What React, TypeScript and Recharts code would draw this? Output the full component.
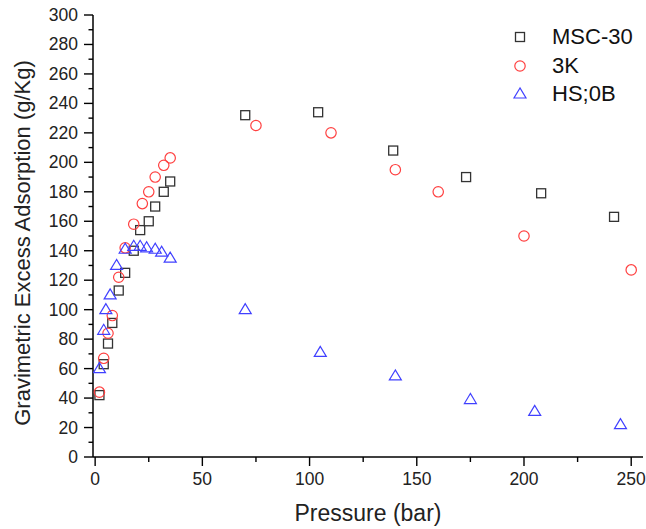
import React from 'react';
import { ScatterChart, Scatter, XAxis, YAxis } from 'recharts';

const msc30 = [
  { p: 2, v: 42 }, { p: 4, v: 63 }, { p: 6, v: 77 }, { p: 8, v: 91 },
  { p: 11, v: 113 }, { p: 14, v: 125 }, { p: 18, v: 140 }, { p: 21, v: 154 },
  { p: 25, v: 160 }, { p: 28, v: 170 }, { p: 32, v: 180 }, { p: 35, v: 187 },
  { p: 70, v: 232 }, { p: 104, v: 234 }, { p: 139, v: 208 }, { p: 173, v: 190 },
  { p: 208, v: 179 }, { p: 242, v: 163 },
];

const k3 = [
  { p: 2, v: 44 }, { p: 4, v: 67 }, { p: 6, v: 84 }, { p: 8, v: 96 },
  { p: 11, v: 122 }, { p: 14, v: 142 }, { p: 18, v: 158 }, { p: 22, v: 172 },
  { p: 25, v: 180 }, { p: 28, v: 190 }, { p: 32, v: 198 }, { p: 35, v: 203 },
  { p: 75, v: 225 }, { p: 110, v: 220 }, { p: 140, v: 195 }, { p: 160, v: 180 },
  { p: 200, v: 150 }, { p: 250, v: 127 },
];

const hs0b = [
  { p: 2, v: 60 }, { p: 4, v: 86 }, { p: 5, v: 100 }, { p: 7, v: 110 },
  { p: 10, v: 130 }, { p: 14, v: 141 }, { p: 18, v: 143 }, { p: 21, v: 143 },
  { p: 24, v: 142 }, { p: 28, v: 141 }, { p: 31, v: 139 }, { p: 35, v: 135 },
  { p: 70, v: 100 }, { p: 105, v: 71 }, { p: 140, v: 55 }, { p: 175, v: 39 },
  { p: 205, v: 31 }, { p: 245, v: 22 },
];

const xTicks = [0, 25, 50, 75, 100, 125, 150, 175, 200, 225, 250];
const yTicks = Array.from({ length: 31 }, (_, i) => i * 10);

const FONT = '"Liberation Sans", Arial, sans-serif';
const SQ = '#333333';
const RED = '#ff4040';
const BLUE = '#4040ff';

const Square = ({ cx, cy }: any) => (
  <rect x={cx - 4.5} y={cy - 4.5} width={9} height={9} fill="none" stroke={SQ} strokeWidth={1.3} />
);
const Circle = ({ cx, cy }: any) => (
  <circle cx={cx} cy={cy} r={5.2} fill="none" stroke={RED} strokeWidth={1.2} />
);
const Triangle = ({ cx, cy }: any) => (
  <polygon
    points={`${cx},${cy - 6} ${cx - 6},${cy + 4} ${cx + 6},${cy + 4}`}
    fill="none"
    stroke={BLUE}
    strokeWidth={1.2}
  />
);

const YTick = ({ x, y, payload }: any) => {
  const major = payload.value % 20 === 0;
  const len = major ? 9 : 4.5;
  return (
    <g>
      <line x1={x} x2={x - len} y1={y} y2={y} stroke="#000" strokeWidth={1.4} />
      {major && (
        <text x={x - 15} y={y} textAnchor="end" dominantBaseline="central" fontSize={17.5} fontFamily={FONT} fill="#222">
          {payload.value}
        </text>
      )}
    </g>
  );
};

const XTick = ({ x, y, payload }: any) => {
  const major = payload.value % 50 === 0;
  const len = major ? 9 : 5;
  return (
    <g>
      <line x1={x} x2={x} y1={y} y2={y + len} stroke="#000" strokeWidth={1.4} />
      {major && (
        <text x={x} y={y + 15} textAnchor="middle" dominantBaseline="hanging" fontSize={17.5} fontFamily={FONT} fill="#222">
          {payload.value}
        </text>
      )}
    </g>
  );
};

const legendItems = [
  { name: 'MSC-30', Icon: Square },
  { name: '3K', Icon: Circle },
  { name: 'HS;0B', Icon: Triangle },
];

export default function App() {
  return (
    <div style={{ position: 'absolute', left: 0, top: 0, width: 646, height: 529, background: '#fff' }}>
      <ScatterChart width={646} height={529} margin={{ top: 15, right: 3, left: 0, bottom: 0 }}>
        <XAxis
          type="number"
          dataKey="p"
          xAxisId="b"
          domain={[-1, 255.5]}
          ticks={xTicks}
          interval={0}
          height={72}
          tickSize={0}
          tickMargin={0}
          tick={<XTick />}
          axisLine={{ stroke: '#000', strokeWidth: 1.5 }}
          allowDataOverflow
          label={{
            content: ({ viewBox }: any) => (
              <text
                x={viewBox.x + viewBox.width / 2}
                y={viewBox.y + 56}
                textAnchor="middle"
                dominantBaseline="central"
                fontSize={23}
                fontFamily={FONT}
                fill="#222"
              >
                Pressure (bar)
              </text>
            ),
          }}
        />
        <XAxis
          type="number"
          dataKey="p"
          xAxisId="t"
          orientation="top"
          domain={[-1, 255.5]}
          height={0}
          tick={false}
          tickLine={false}
          axisLine={{ stroke: '#000', strokeWidth: 1.5 }}
          allowDataOverflow
        />
        <YAxis
          type="number"
          dataKey="v"
          yAxisId="l"
          domain={[0, 300]}
          ticks={yTicks}
          interval={0}
          width={93}
          tickSize={0}
          tickMargin={0}
          tick={<YTick />}
          axisLine={{ stroke: '#000', strokeWidth: 1.5 }}
          allowDataOverflow
          label={{
            content: ({ viewBox }: any) => {
              const cx = 22;
              const cy = viewBox.y + viewBox.height / 2 + 7;
              return (
                <text
                  x={cx}
                  y={cy}
                  transform={`rotate(-90 ${cx} ${cy})`}
                  textAnchor="middle"
                  dominantBaseline="central"
                  fontSize={22}
                  fontFamily={FONT}
                  fill="#222"
                >
                  Gravimetric Excess Adsorption (g/Kg)
                </text>
              );
            },
          }}
        />
        <YAxis
          type="number"
          dataKey="v"
          yAxisId="r"
          orientation="right"
          domain={[0, 300]}
          width={0}
          tick={false}
          tickLine={false}
          axisLine={{ stroke: '#000', strokeWidth: 1.5 }}
          allowDataOverflow
        />
        <Scatter name="MSC-30" data={msc30} xAxisId="b" yAxisId="l" shape={<Square />} isAnimationActive={false} />
        <Scatter name="3K" data={k3} xAxisId="b" yAxisId="l" shape={<Circle />} isAnimationActive={false} />
        <Scatter name="HS;0B" data={hs0b} xAxisId="b" yAxisId="l" shape={<Triangle />} isAnimationActive={false} />
      </ScatterChart>
      <div style={{ position: 'absolute', left: 508, top: 23 }}>
        {legendItems.map(({ name, Icon }) => (
          <div key={name} style={{ display: 'flex', alignItems: 'center', height: 28.5 }}>
            <svg width={24} height={24}>
              <Icon cx={12} cy={12} />
            </svg>
            <span style={{ marginLeft: 20, fontFamily: FONT, fontSize: 22, color: '#111', lineHeight: '28px' }}>{name}</span>
          </div>
        ))}
      </div>
    </div>
  );
}
